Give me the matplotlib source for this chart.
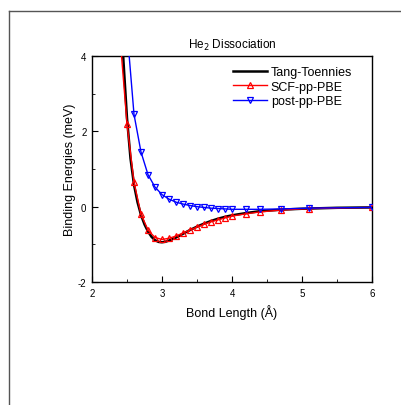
import matplotlib
matplotlib.use('Agg')
import matplotlib.pyplot as plt
from matplotlib.lines import Line2D

plt.rcParams['font.family'] = ['Liberation Sans', 'DejaVu Sans']
plt.rcParams['axes.unicode_minus'] = False

# Tang-Toennies reference curve
tt_x = [2.40, 2.45, 2.50, 2.55, 2.60, 2.65, 2.70, 2.75, 2.80, 2.85, 2.90, 2.95, 3.00, 3.05, 3.10,
        3.20, 3.30, 3.40, 3.50, 3.60, 3.70, 3.80, 3.90, 4.00, 4.20, 4.40, 4.70, 5.00, 5.50, 6.00]
tt_y = [5.60, 3.85, 2.35, 1.28, 0.58, 0.12, -0.22, -0.47, -0.66, -0.80, -0.89, -0.935, -0.945, -0.93, -0.90,
        -0.82, -0.72, -0.62, -0.53, -0.45, -0.38, -0.32, -0.27, -0.23, -0.17, -0.12, -0.08, -0.055, -0.03, -0.02]

# SCF-pp-PBE
scf_x = [2.4, 2.5, 2.6, 2.7, 2.8, 2.9, 3.0, 3.1, 3.2, 3.3, 3.4, 3.5, 3.6, 3.7, 3.8, 3.9, 4.0,
         4.2, 4.4, 4.7, 5.1, 6.0]
scf_y = [4.5, 2.2, 0.65, -0.2, -0.62, -0.82, -0.87, -0.84, -0.78, -0.70, -0.62, -0.54, -0.47, -0.40,
         -0.35, -0.30, -0.25, -0.19, -0.14, -0.09, -0.05, -0.02]

# post-pp-PBE
post_x = [2.5, 2.6, 2.7, 2.8, 2.9, 3.0, 3.1, 3.2, 3.3, 3.4, 3.5, 3.6, 3.7, 3.8, 3.9, 4.0,
          4.2, 4.4, 4.7, 5.1, 6.0]
post_y = [4.7, 2.45, 1.45, 0.85, 0.52, 0.32, 0.20, 0.12, 0.07, 0.03, 0.0, -0.02, -0.04, -0.05,
          -0.06, -0.07, -0.07, -0.07, -0.06, -0.04, -0.02]

fig = plt.figure(figsize=(4.01, 4.06), dpi=100)

# page border (top and left)
fig.add_artist(Line2D([9 / 401, 1], [1 - 12 / 406, 1 - 12 / 406], color='#555555', lw=1.0))
fig.add_artist(Line2D([9 / 401, 9 / 401], [0, 1 - 12 / 406], color='#555555', lw=1.0))

ax = fig.add_axes([92 / 401, 1 - 283 / 406, 280 / 401, 226 / 406])

ax.plot(tt_x, tt_y, color='black', lw=1.8, label='Tang-Toennies', zorder=3)
ax.plot(scf_x, scf_y, color='red', lw=1.0, marker='^', markersize=5, markerfacecolor='none',
        markeredgewidth=0.9, label='SCF-pp-PBE', zorder=4)
ax.plot(post_x, post_y, color='blue', lw=1.0, marker='v', markersize=5, markerfacecolor='none',
        markeredgewidth=0.9, label='post-pp-PBE', zorder=4)

ax.set_xlim(2, 6)
ax.set_ylim(-2, 4)
ax.set_xticks([2, 3, 4, 5, 6])
ax.set_xticks([2.5, 3.5, 4.5, 5.5], minor=True)
ax.set_yticks([-2, 0, 2, 4])
ax.set_yticks([-1, 1, 3], minor=True)
ax.tick_params(which='both', direction='in', labelsize=7, pad=4)
ax.tick_params(which='major', length=4)
ax.tick_params(which='minor', length=2.5)
for s in ax.spines.values():
    s.set_linewidth(1.0)

ax.set_xlabel('Bond Length (Å)', fontsize=9, labelpad=5)
ax.set_ylabel('Binding Energies (meV)', fontsize=9, labelpad=1)
ax.set_title('He$_2$ Dissociation', fontsize=8.5, pad=6)

ax.legend(loc='upper right', bbox_to_anchor=(0.965, 1.0), frameon=False, fontsize=9,
          handlelength=2.7, handletextpad=0.3, labelspacing=0.2, borderaxespad=0.4)

fig.savefig('out.png', dpi=100)
